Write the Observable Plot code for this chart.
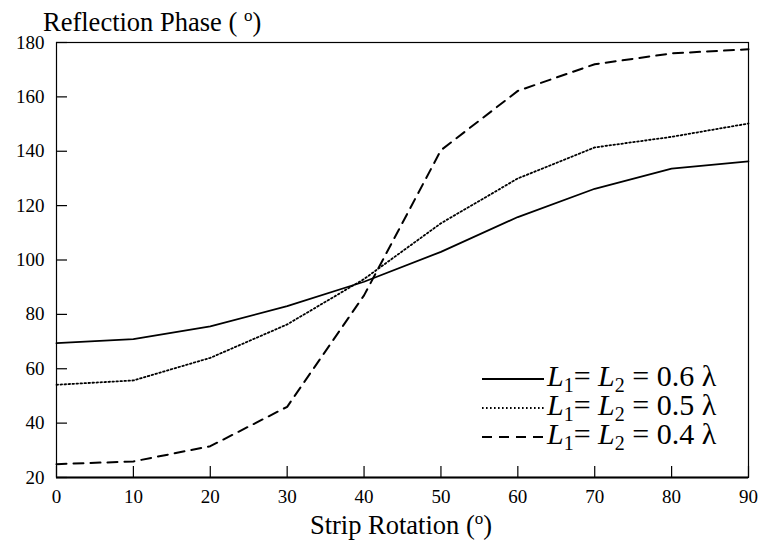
<!DOCTYPE html>
<html>
<head>
<meta charset="utf-8">
<script src="https://cdn.jsdelivr.net/npm/d3@7"></script>
<script src="https://cdn.jsdelivr.net/npm/@observablehq/plot@0.6"></script>
<style>
  html, body { margin: 0; padding: 0; background: #fff; }
  #chart svg { display: block; }
</style>
</head>
<body>
<div id="chart"></div>
<script>
// Strip rotation angle (degrees)
const rotation = [0, 10, 20, 30, 40, 50, 60, 70, 80, 90];

// Reflection phase (degrees) for each strip length
const phaseL06 = [69.4, 70.9, 75.6, 83, 92, 103, 115.8, 126.2, 133.6, 136.3];
const phaseL05 = [54.1, 55.7, 64, 76.3, 93, 113.5, 130, 141.4, 145.3, 150.2];
const phaseL04 = [24.9, 25.9, 31.5, 46, 87, 140.4, 162.2, 172, 176, 177.5];

const seriesNames = ["0.6", "0.5", "0.4"];
const seriesValues = [phaseL06, phaseL05, phaseL04];
const seriesDash = [null, "1.6,2.4", "10,7"];
const seriesWidth = [1.8, 1.8, 2];

const xTicks = [0, 10, 20, 30, 40, 50, 60, 70, 80, 90];
const yTicks = [20, 40, 60, 80, 100, 120, 140, 160, 180];

const font = "'Liberation Serif', 'Times New Roman', serif";

const rows = seriesNames.flatMap((name, i) =>
  rotation.map((x, j) => ({series: name, x, y: seriesValues[i][j]}))
);

const lineMarks = seriesNames.map((name, i) =>
  Plot.line(rows.filter(d => d.series === name), {
    x: "x", y: "y",
    stroke: "black",
    strokeWidth: seriesWidth[i],
    strokeDasharray: seriesDash[i]
  })
);

const chart = Plot.plot({
  width: 760,
  height: 545,
  marginLeft: 56,
  marginRight: 12,
  marginTop: 42,
  marginBottom: 68,
  style: {fontFamily: font, background: "white", color: "black"},
  x: {domain: [0, 90]},
  y: {domain: [20, 180]},
  marks: [
    Plot.frame({stroke: "black", strokeWidth: 1.2}),
    Plot.ruleY([20], {stroke: "black", strokeWidth: 2}),
    // inward tick marks
    Plot.axisX(xTicks, {anchor: "bottom", tickSize: -11, text: null, label: null, strokeWidth: 1.2}),
    Plot.axisY(yTicks, {anchor: "left", tickSize: -11, text: null, label: null, strokeWidth: 1.2}),
    // tick labels
    Plot.axisX(xTicks, {anchor: "bottom", tickSize: 0, tickPadding: 12, fontSize: 19, label: null}),
    Plot.axisY(yTicks, {anchor: "left", tickSize: 0, tickPadding: 12, fontSize: 19, label: null}),
    ...lineMarks
  ]
});

document.getElementById("chart").appendChild(chart);

const svg = d3.select(chart);

// Axis titles with a superscript degree "o"
function titleWithSup(x, y, anchor, before, after) {
  const t = svg.append("text")
    .attr("x", x).attr("y", y)
    .attr("text-anchor", anchor)
    .attr("font-family", font)
    .attr("font-size", 26.5)
    .attr("fill", "black");
  t.append("tspan").text(before);
  t.append("tspan").attr("font-size", 17).attr("dy", -10).text("o");
  t.append("tspan").attr("dy", 10).text(after);
}
titleWithSup(43, 31, "start", "Reflection Phase ( ", ")");
titleWithSup(401, 534, "middle", "Strip Rotation (", ")");

// Legend
const legend = svg.append("g");
seriesNames.forEach((name, i) => {
  const cy = 379 + i * 29;
  legend.append("line")
    .attr("x1", 482).attr("x2", 544)
    .attr("y1", cy).attr("y2", cy)
    .attr("stroke", "black")
    .attr("stroke-width", seriesWidth[i])
    .attr("stroke-dasharray", seriesDash[i]);
  const t = legend.append("text")
    .attr("x", 547).attr("y", cy + 7)
    .attr("text-anchor", "start")
    .attr("font-family", font)
    .attr("font-size", 30)
    .attr("fill", "black");
  t.append("tspan").attr("font-style", "italic").text("L");
  t.append("tspan").attr("font-size", 20).attr("dy", 6).text("1");
  t.append("tspan").attr("dy", -6).text("= ");
  t.append("tspan").attr("font-style", "italic").text("L");
  t.append("tspan").attr("font-size", 20).attr("dy", 6).text("2");
  t.append("tspan").attr("dy", -6).text(" = " + name + " λ");
});
</script>
</body>
</html>
